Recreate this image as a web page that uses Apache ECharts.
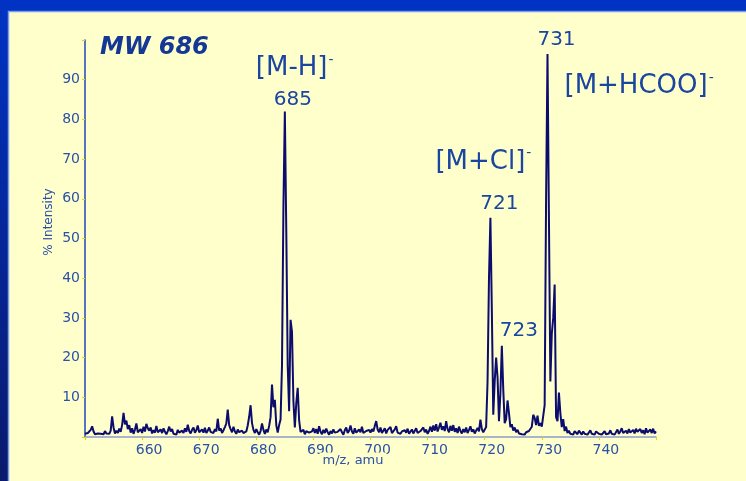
<!DOCTYPE html>
<html>
<head>
<meta charset="utf-8">
<script src="https://cdn.jsdelivr.net/npm/echarts@6/dist/echarts.min.js"></script>
<style>
  html, body { margin: 0; padding: 0; background: #0033c4; }
  #chart { width: 746px; height: 481px; }
</style>
</head>
<body>
<div id="chart"></div>
<script>
// Negative-ion ESI spectrum, m/z 650–750, sampled every 0.25 amu
const mzStart = 650;
const mzStep = 0.25;
const intensity = [
  // 650 – 659.75
  0.8,0.5,1.0,0.6,1.8,2.7,1.4,0.7,1.2,0.9, 1.3,0.8,1.1,0.7,1.5,0.9,1.2,0.8,1.6,5.2,
  2.4,0.9,1.6,1.0,2.1,1.3,3.0,6.1,3.2,4.1, 2.0,3.0,1.1,2.2,0.8,1.9,3.4,1.2,0.7,2.0,
  // 660 – 669.75
  1.0,2.6,1.4,3.3,2.2,1.6,2.4,0.9,1.7,1.1, 2.8,1.2,0.8,1.9,1.0,2.2,1.3,0.7,1.5,2.6,
  1.4,2.0,0.8,1.2,0.6,1.8,1.1,0.7,1.6,1.0, 2.2,1.3,3.1,1.5,0.9,1.8,2.4,1.1,1.7,2.9,
  // 670 – 679.75
  1.2,0.7,1.9,1.1,2.3,1.0,1.6,2.4,1.3,1.8, 1.0,2.0,1.4,4.6,1.6,2.2,1.0,1.7,2.5,3.4,
  6.9,3.0,2.0,1.2,2.6,1.4,0.8,1.9,1.2,0.7, 1.6,1.0,0.6,1.4,2.9,5.1,8.0,3.5,1.8,1.0,
  // 680 – 689.75
  2.0,1.2,0.6,1.5,3.4,1.8,0.8,1.9,1.2,2.8, 5.0,13.2,7.5,9.4,3.0,1.1,3.0,4.4,18,58,
  82,52,18,6.5,29.5,26.5,9,2.4,8.5,12.4, 4.2,1.3,0.8,1.8,0.7,1.5,2.0,1.1,0.6,1.4,
  // 690 – 699.75
  2.2,1.0,2.0,0.8,2.7,1.3,0.7,1.8,1.0,2.1, 1.2,0.6,1.5,0.9,1.9,1.1,0.7,1.3,0.8,2.0,
  1.2,0.6,1.7,2.4,1.0,1.6,2.9,1.4,0.8,2.2, 1.1,0.7,1.9,1.2,2.6,1.0,0.6,1.5,1.0,1.8,
  // 700 – 709.75
  1.1,2.0,1.4,2.8,4.0,1.9,1.2,2.4,1.0,1.6, 2.2,0.9,1.8,1.3,2.5,1.0,0.7,1.9,2.7,1.1,
  1.6,0.8,1.4,0.9,1.7,1.1,2.1,0.8,1.2,1.9, 0.9,1.4,2.2,1.0,0.7,1.5,1.1,2.4,1.2,1.9,
  // 710 – 719.75
  0.8,1.5,2.6,1.3,2.9,1.6,3.2,1.4,2.4,3.6, 1.8,2.7,1.5,4.0,2.0,1.2,2.8,1.6,3.0,1.3,
  2.2,1.0,2.6,1.5,0.9,2.0,1.2,2.4,1.0,1.8, 2.7,1.3,1.9,0.9,1.6,2.3,1.4,4.4,2.0,1.2,
  // 720 – 729.75
  1.5,2.5,14,40,55.2,32,5.6,14,20,15, 4,11,23,12,3.5,4.5,9.2,6,2.5,3.2,
  1.6,2.4,1.2,1.8,0.9,1.4,0.7,1.1,0.6,1.2, 0.8,1.5,1.1,2.6,5.6,4.8,3.0,5.4,2.8,3.5,
  // 730 – 739.75
  2.6,3.0,8,60,96.5,55,14,26,30,38.4, 5,4,11.2,6,2.5,4.5,1.5,2.6,1.0,1.6,
  0.8,1.3,0.6,1.5,1.0,0.7,1.6,1.1,0.6,1.4, 0.8,1.2,0.6,1.0,1.7,0.8,1.2,0.6,1.4,0.9,
  // 740 – 750
  0.8,1.3,0.6,1.0,1.5,0.7,1.2,0.9,1.7,0.8, 1.3,0.6,1.1,1.9,0.8,1.4,2.2,1.0,0.7,1.6,
  0.9,2.0,1.1,0.6,1.8,0.9,2.1,1.3,0.8,2.0, 1.0,1.7,0.7,2.2,1.1,0.8,1.9,1.0,2.1,0.9,
  1.4
];

// Axis ranges and tick spacing
const mzRange = [650, 750];
const mzInterval = 10;
const intensityRange = [0, 100];
const intensityInterval = 10;

// Labelled peaks (m/z) and ion assignments
const labelledPeaks = [685, 721, 723, 731];
const ionPeaks = [685, 721, 731];
const ionNames = ['[M-H]', '[M+Cl]', '[M+HCOO]'];
const ionCharge = '-';
const compoundTitle = 'MW 686';
const xTitle = 'm/z, amu';
const yTitle = '% Intensity';

const spectrum = intensity.map((v, i) => [mzStart + i * mzStep, v]);
const valueAt = mz => intensity[Math.round((mz - mzStart) / mzStep)];

const textBlue = '#1a45a0';
const tickBlue = '#2a50a8';
const yellow = '#ffffcc';
const tickYellow = '#e6d400';

// label placement relative to each peak apex
const numberOffsets = { 685: [8, -12], 721: [9, -14], 723: [17, -15], 731: [9, -14] };
const ionOffsets = { 685: [-29, -43], 721: [-55, -56], 731: [17, 32] };

const markData = [];
labelledPeaks.forEach(mz => {
  markData.push({
    coord: [mz, valueAt(mz)],
    label: {
      formatter: String(mz),
      offset: numberOffsets[mz],
      fontSize: 20,
      align: 'center',
      verticalAlign: 'middle'
    }
  });
});
ionPeaks.forEach((mz, i) => {
  markData.push({
    coord: [mz, valueAt(mz)],
    label: {
      formatter: '{ion|' + ionNames[i] + '}{chg|' + ionCharge + '}',
      offset: ionOffsets[mz],
      align: 'left',
      verticalAlign: 'middle',
      rich: {
        ion: { fontSize: 26, color: textBlue, fontFamily: 'DejaVu Sans' },
        chg: { fontSize: 14, color: textBlue, fontFamily: 'DejaVu Sans', padding: [0, 0, 16, 1] }
      }
    }
  });
});

const chart = echarts.init(document.getElementById('chart'), null, { renderer: 'canvas' });

chart.setOption({
  animation: false,
  backgroundColor: {
    type: 'linear', x: 0, y: 0, x2: 0, y2: 1,
    colorStops: [
      { offset: 0, color: '#0033c4' },
      { offset: 1, color: '#0a1a6c' }
    ]
  },
  textStyle: { fontFamily: 'DejaVu Sans' },
  grid: { left: 85, right: 90, top: 40, bottom: 44, containLabel: false },
  graphic: [
    {
      type: 'rect', z: -10,
      shape: { x: 8.5, y: 11.5, width: 760, height: 500 },
      style: { fill: yellow, stroke: '#7d9cf0', lineWidth: 1.5 }
    },
    {
      type: 'text', left: 100, top: 36, z: 50,
      style: {
        text: compoundTitle,
        font: 'italic bold 24px "DejaVu Sans"',
        fill: '#153896'
      }
    },
    {
      type: 'text', x: 353, y: 461, z: 50,
      style: {
        text: xTitle,
        font: '13px "DejaVu Sans"',
        fill: tickBlue,
        align: 'center',
        verticalAlign: 'middle',
        backgroundColor: yellow,
        padding: [3, 3, 1, 3]
      }
    },
    {
      type: 'text', x: 49, y: 222, z: 50, rotation: Math.PI / 2,
      style: {
        text: yTitle,
        font: '12px "DejaVu Sans"',
        fill: tickBlue,
        align: 'center',
        verticalAlign: 'middle'
      }
    }
  ],
  xAxis: {
    type: 'value',
    min: mzRange[0],
    max: mzRange[1],
    interval: mzInterval,
    axisLine: { show: true, lineStyle: { color: '#8c9ccc', width: 1.5 } },
    axisTick: { show: true, length: 3, lineStyle: { color: tickYellow, width: 1 } },
    splitLine: { show: false },
    axisLabel: {
      color: tickBlue,
      fontSize: 14,
      margin: 6,
      padding: [0, 0, 0, 14],
      formatter: v => (v === mzRange[0] || v === mzRange[1]) ? '' : String(v)
    }
  },
  yAxis: {
    type: 'value',
    min: intensityRange[0],
    max: intensityRange[1],
    interval: intensityInterval,
    axisLine: { show: true, lineStyle: { color: '#2244bb', width: 1.5 } },
    axisTick: { show: true, length: 3, lineStyle: { color: tickYellow, width: 1 } },
    splitLine: { show: false },
    axisLabel: {
      color: tickBlue,
      fontSize: 14,
      margin: 5,
      formatter: v => (v === intensityRange[0] || v === intensityRange[1]) ? '' : String(v)
    }
  },
  series: [{
    type: 'line',
    data: spectrum,
    showSymbol: false,
    symbol: 'none',
    lineStyle: { color: '#0c0c6e', width: 2 },
    z: 5,
    markPoint: {
      symbol: 'rect',
      symbolSize: 1,
      itemStyle: { color: 'rgba(0,0,0,0)' },
      label: { show: true, position: 'inside', color: textBlue, fontFamily: 'DejaVu Sans' },
      data: markData
    }
  }]
});
</script>
</body>
</html>
